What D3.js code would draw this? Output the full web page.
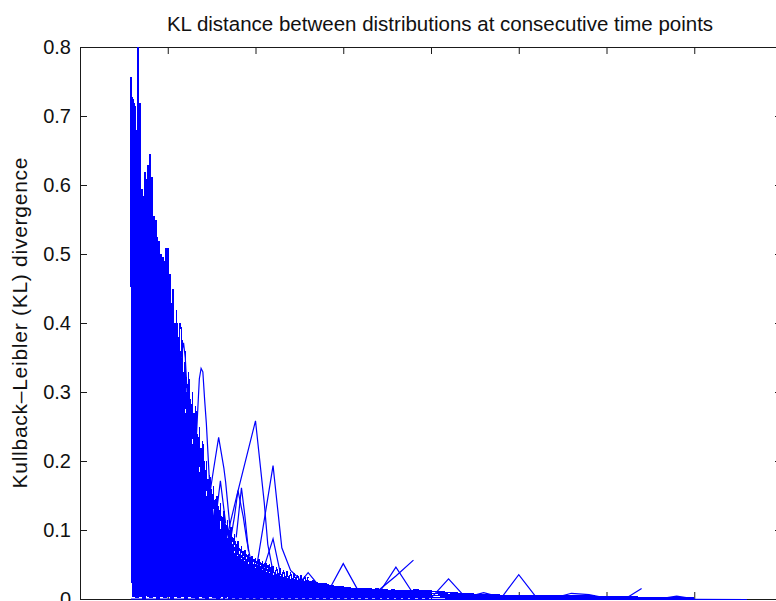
<!DOCTYPE html>
<html><head><meta charset="utf-8">
<script src="https://cdn.jsdelivr.net/npm/d3@7"></script>
<style>
body{margin:0;background:#fff}
svg{display:block}
text{font-family:"Liberation Sans",Arial,Helvetica,sans-serif;fill:#111}
</style>
</head><body>
<svg id="chart" width="776" height="601"></svg>
<script>
// ---------------- data ----------------
const chartTitle = "KL distance between distributions at consecutive time points";
const yAxisLabel = "Kullback\u2013Leibler (KL) divergence";
const xTickValues = [0, 50, 100, 150, 200, 250, 300, 350, 400];
const yTickValues = [0, 0.1, 0.2, 0.3, 0.4, 0.5, 0.6, 0.7, 0.8];
const yTickLabels = ["0", "0.1", "0.2", "0.3", "0.4", "0.5", "0.6", "0.7", "0.8"];

// dense bundle of series, one value per time step, starting at t = 29
const denseStart = 29;
const denseA = [
0.757,0.004,0.715,0.002,0.800,0.003,0.595,0.001,0.605,0.005,
0.630,0.002,0.613,0.004,0.550,0.001,0.520,0.003,0.496,0.002,
0.509,0.004,0.472,0.001,0.430,0.003,0.400,0.002,0.360,0.004,
0.330,0.001,0.300,0.003,0.270,0.002,0.250,0.001,0.220,0.003,
0.200,0.002,0.180,0.001,0.160,0.003,0.145,0.002,0.130,0.001,
0.120,0.002,0.110,0.001,0.100,0.003,0.090,0.001,0.080,0.002,
0.072,0.001,0.066,0.002,0.062,0.001,0.058,0.002,0.055,0.001,
0.052,0.002,0.050,0.001,0.048,0.002,0.046,0.001,0.044,0.002,
0.042,0.001,0.040,0.002,0.038,0.001,0.036,0.002,0.034,0.001,
0.032,0.002,0.031,0.001,0.030,0.002,0.029,0.001,0.028,0.002,
0.028,0.001,0.027,0.002,0.028,0.001,0.025,0.002,0.024,0.001,
0.024,0.002,0.022,0.001,0.021,0.002,0.020,0.001,0.020,0.002,
0.019,0.001,0.018,0.002,0.018,0.001,0.017,0.002,0.017,0.001,
0.016,0.002,0.016,0.001,0.016,0.002,0.016,0.001,0.015,0.002,
0.016,0.001,0.015,0.002,0.015,0.001,0.015,0.002,0.014,0.001,
0.015,0.002,0.014,0.001,0.014,0.002,0.014,0.001,0.013,0.002,
0.014,0.001,0.013,0.002,0.013,0.001,0.012,0.002,0.012,0.001,
0.012,0.002];
const denseB = [
0.730,0.725,0.003,0.680,0.002,0.720,0.004,0.585,0.001,0.610,
0.003,0.646,0.002,0.556,0.004,0.525,0.001,0.500,0.003,0.490,
0.002,0.510,0.004,0.430,0.001,0.387,0.003,0.330,0.002,0.300,
0.004,0.270,0.001,0.245,0.003,0.225,0.002,0.205,0.001,0.185,
0.003,0.165,0.002,0.150,0.001,0.135,0.003,0.120,0.002,0.110,
0.001,0.100,0.003,0.092,0.002,0.084,0.001,0.076,0.002,0.068,
0.001,0.062,0.002,0.058,0.001,0.054,0.002,0.051,0.001,0.048,
0.002,0.046,0.001,0.044,0.002,0.042,0.001,0.040,0.002,0.038,
0.001,0.036,0.002,0.035,0.001,0.034,0.002,0.032,0.001,0.031,
0.002,0.030,0.001,0.029,0.002,0.028,0.001,0.027,0.002,0.027,
0.001,0.028,0.002,0.026,0.001,0.026,0.002,0.024,0.001,0.023,
0.002,0.023,0.001,0.021,0.002,0.021,0.001,0.020,0.002,0.019,
0.001,0.019,0.002,0.018,0.001,0.018,0.002,0.017,0.001,0.017,
0.002,0.016,0.001,0.017,0.002,0.016,0.001,0.016,0.002,0.015,
0.001,0.016,0.002,0.015,0.001,0.015,0.002,0.014,0.001,0.015,
0.002,0.014,0.001,0.014,0.002,0.014,0.001,0.013,0.002,0.014,
0.001,0.013,0.002,0.013,0.001,0.012,0.002,0.012,0.001,0.012,
0.002,0.011];
const denseC = [
0.70,0.40,0.72,0.45,0.68,0.50,0.58,0.40,0.62,0.45,
0.60,0.63,0.45,0.55,0.40,0.51,0.38,0.49,0.35,0.47,
0.50,0.33,0.45,0.30,0.45,0.30,0.42,0.28,0.40,0.39,
0.20,0.36,0.18,0.33,0.16,0.30,0.15,0.28,0.14,0.25,
0.12,0.23,0.11,0.20,0.10,0.18,0.09,0.165,0.085,0.15,
0.08,0.14,0.075,0.128,0.07,0.115,0.065,0.105,0.06,0.095,
0.055,0.085,0.05,0.078,0.048,0.072,0.045,0.066,0.043,0.063,
0.04,0.06,0.038,0.058,0.036,0.055,0.034,0.053,0.033,0.051,
0.032,0.049,0.031,0.047,0.03,0.045,0.029,0.043,0.028,0.041,
0.027,0.039,0.026,0.038,0.025,0.036,0.025,0.035,0.024,0.034,
0.023,0.033];
const denseDStart = 50;
const denseD = [
0.44,0.30,0.42,0.28,0.40,0.26,0.38,0.24,0.35,0.22,
0.33,0.31,0.20,0.29,0.18,0.27,0.16,0.24,0.15,0.22,
0.13,0.20,0.12,0.175,0.11,0.16,0.10,0.145,0.095,0.135,
0.09,0.12,0.085,0.11,0.08,0.10,0.075,0.09,0.07,0.08,
0.065,0.075,0.06,0.07,0.057,0.066,0.054,0.062,0.051,0.059,
0.048,0.057,0.046,0.054,0.044,0.052,0.042,0.05,0.04,0.048,0.038];

// long tail, sampled every 10 time units
const tailTimes = [190,200,210,220,230,240,250,260,270,280,290,300,310,320,330,340,350];
const tailA = [0.014,0.012,0.010,0.008,0.007,0.006,0.006,0.006,0.005,0.005,0.005,0.004,0.004,0.003,0.003,0.003,0.003];
const tailB = [0.010,0.009,0.0075,0.006,0.005,0.0045,0.0045,0.0045,0.004,0.004,0.0035,0.003,0.003,0.0025,0.002,0.002,0.002];
const tailC = [0.007,0.006,0.005,0.004,0.0035,0.003,0.003,0.003,0.0028,0.0027,0.0025,0.002,0.002,0.0018,0.0015,0.0015,0.0015];
const tailD = [0.0035,0.003,0.0025,0.002,0.0018,0.0015,0.0015,0.0015,0.0014,0.0013,0.0012,0.001,0.001,0.0009,0.0008,0.0008,0.0008];

// individual series that stand out, as [time, KL] pairs
const peak59  = [[54,0.25],[57,0.33],[58,0.358],[59,0.372],[60,0.35],[61,0.30],[63,0.22]];
const peak69  = [[64,0.16],[66,0.22],[67,0.27],[68,0.32],[69,0.335],[70,0.33],[71,0.29],[72,0.255],[74,0.16]];
const peak74  = [[71,0.10],[74,0.165],[77,0.10]];
const peak79  = [[72,0.12],[76,0.187],[79,0.235],[82,0.19],[83,0.17],[84,0.143],[86,0.09]];
const peak80  = [[77,0.11],[80,0.172],[83,0.11]];
const peak90  = [[84,0.06],[88,0.12],[90,0.158],[93,0.12],[95,0.086],[97,0.06]];
const peak92  = [[89,0.09],[92,0.162],[94,0.12],[96,0.07]];
const peak100 = [[75,0.04],[80,0.052],[90,0.157],[100,0.259],[105,0.14],[107,0.08],[110,0.04],[115,0.03]];
const peak110 = [[95,0.03],[100,0.037],[110,0.194],[115,0.075],[120,0.042],[125,0.03]];
const peak110b = [[104,0.04],[110,0.088],[114,0.04]];
const bump130 = [[120,0.008],[130,0.039],[140,0.008]];
const tri150  = [[140,0.005],[150,0.052],[160,0.006]];
const tri180  = [[170,0.008],[180,0.047],[190,0.008]];
const rise190 = [[120,0.02],[130,0.018],[140,0.016],[150,0.015],[160,0.014],[170,0.013],[180,0.034],[190,0.057]];
const tri210  = [[200,0.002],[210,0.030],[220,0.002]];
const bump230 = [[220,0.003],[230,0.010],[240,0.003]];
const tri250  = [[240,0.002],[250,0.036],[260,0.003]];
const bump280 = [[270,0.002],[280,0.009],[290,0.007],[300,0.002]];
const rise320 = [[290,0.004],[300,0.003],[310,0.0],[320,0.016]];
const bump340 = [[330,0.001],[340,0.005],[350,0.001]];
const zeroLine = [[29,0.0005],[200,0.0003],[350,0.0002],[380,0.0]];

// ---------------- drawing ----------------
const svg = d3.select("#chart");
const mLeft = 80, mRight = 782, mTop = 47, mBottom = 599;
const x = d3.scaleLinear().domain([0, 400]).range([mLeft, mRight]);
const y = d3.scaleLinear().domain([0, 0.8]).range([mBottom, mTop]);
const blue = "#0000ff";
const axisColor = "#1a1a1a";

svg.append("defs").append("clipPath").attr("id", "plotclip")
  .append("rect").attr("x", mLeft).attr("y", mTop - 1).attr("width", mRight - mLeft).attr("height", mBottom - mTop + 2);

function styleAxis(g) {
  g.selectAll("path,line").attr("stroke", axisColor).attr("stroke-width", 1);
  g.selectAll("text").attr("font-size", 20).attr("fill", "#111")
    .attr("font-family", '"Liberation Sans",Arial,Helvetica,sans-serif');
}

svg.append("g").attr("transform", `translate(${mLeft},0)`)
  .call(d3.axisLeft(y).tickValues(yTickValues).tickSize(-7).tickSizeOuter(0).tickPadding(9)
    .tickFormat((d, i) => yTickLabels[i]))
  .call(styleAxis);
svg.append("g").attr("transform", `translate(${mRight},0)`)
  .call(d3.axisRight(y).tickValues(yTickValues).tickSize(-7).tickSizeOuter(0).tickFormat(""))
  .call(styleAxis);
svg.append("g").attr("transform", `translate(0,${mTop})`)
  .call(d3.axisTop(x).tickValues(xTickValues).tickSize(-7).tickSizeOuter(0).tickFormat(""))
  .call(styleAxis);
svg.append("g").attr("transform", `translate(0,${mBottom})`)
  .call(d3.axisBottom(x).tickValues(xTickValues).tickSize(-7).tickSizeOuter(0).tickFormat(""))
  .call(styleAxis);

const line = d3.line().x(d => x(d[0])).y(d => y(d[1]));
const fromStart = (start, vals) => vals.map((v, i) => [start + i, v]);
const fromTimes = (times, vals) => vals.map((v, i) => [times[i], v]);

const plot = svg.append("g").attr("clip-path", "url(#plotclip)")
  .append("g").attr("transform", "translate(0,0.5)");

const denseSeries = [
  {pts: fromStart(denseStart, denseA), w: 2.2},
  {pts: fromStart(denseStart, denseB), w: 2.2},
  {pts: fromStart(denseStart, denseC), w: 1.2},
  {pts: fromStart(denseDStart, denseD), w: 1.2},
  {pts: fromTimes(tailTimes, tailA), w: 1.6},
  {pts: fromTimes(tailTimes, tailB), w: 1.6},
  {pts: fromTimes(tailTimes, tailC), w: 1.6},
  {pts: fromTimes(tailTimes, tailD), w: 1.6}
];
const featureSeries = [peak59, peak69, peak74, peak79, peak80, peak90, peak92, peak100, peak110, peak110b,
  bump130, tri150, tri180, rise190, tri210, bump230, tri250, bump280, rise320, bump340, zeroLine];

plot.selectAll("path.dense").data(denseSeries).join("path").attr("class", "dense")
  .attr("d", d => line(d.pts)).attr("fill", "none").attr("stroke", blue)
  .attr("stroke-width", d => d.w).attr("stroke-linejoin", "bevel")
  .attr("shape-rendering", "crispEdges");
plot.selectAll("path.feature").data(featureSeries).join("path").attr("class", "feature")
  .attr("d", d => line(d)).attr("fill", "none").attr("stroke", blue)
  .attr("stroke-width", 1.2).attr("stroke-linejoin", "miter");

// title and axis label
svg.append("text").attr("x", 440).attr("y", 31).attr("text-anchor", "middle")
  .attr("font-size", 20.5).text(chartTitle);
svg.append("text").attr("transform", `translate(27,${(mTop + mBottom) / 2}) rotate(-90)`)
  .attr("text-anchor", "middle").attr("font-size", 21)
  .attr("textLength", 331).attr("lengthAdjust", "spacing").text(yAxisLabel);
</script>
</body></html>
